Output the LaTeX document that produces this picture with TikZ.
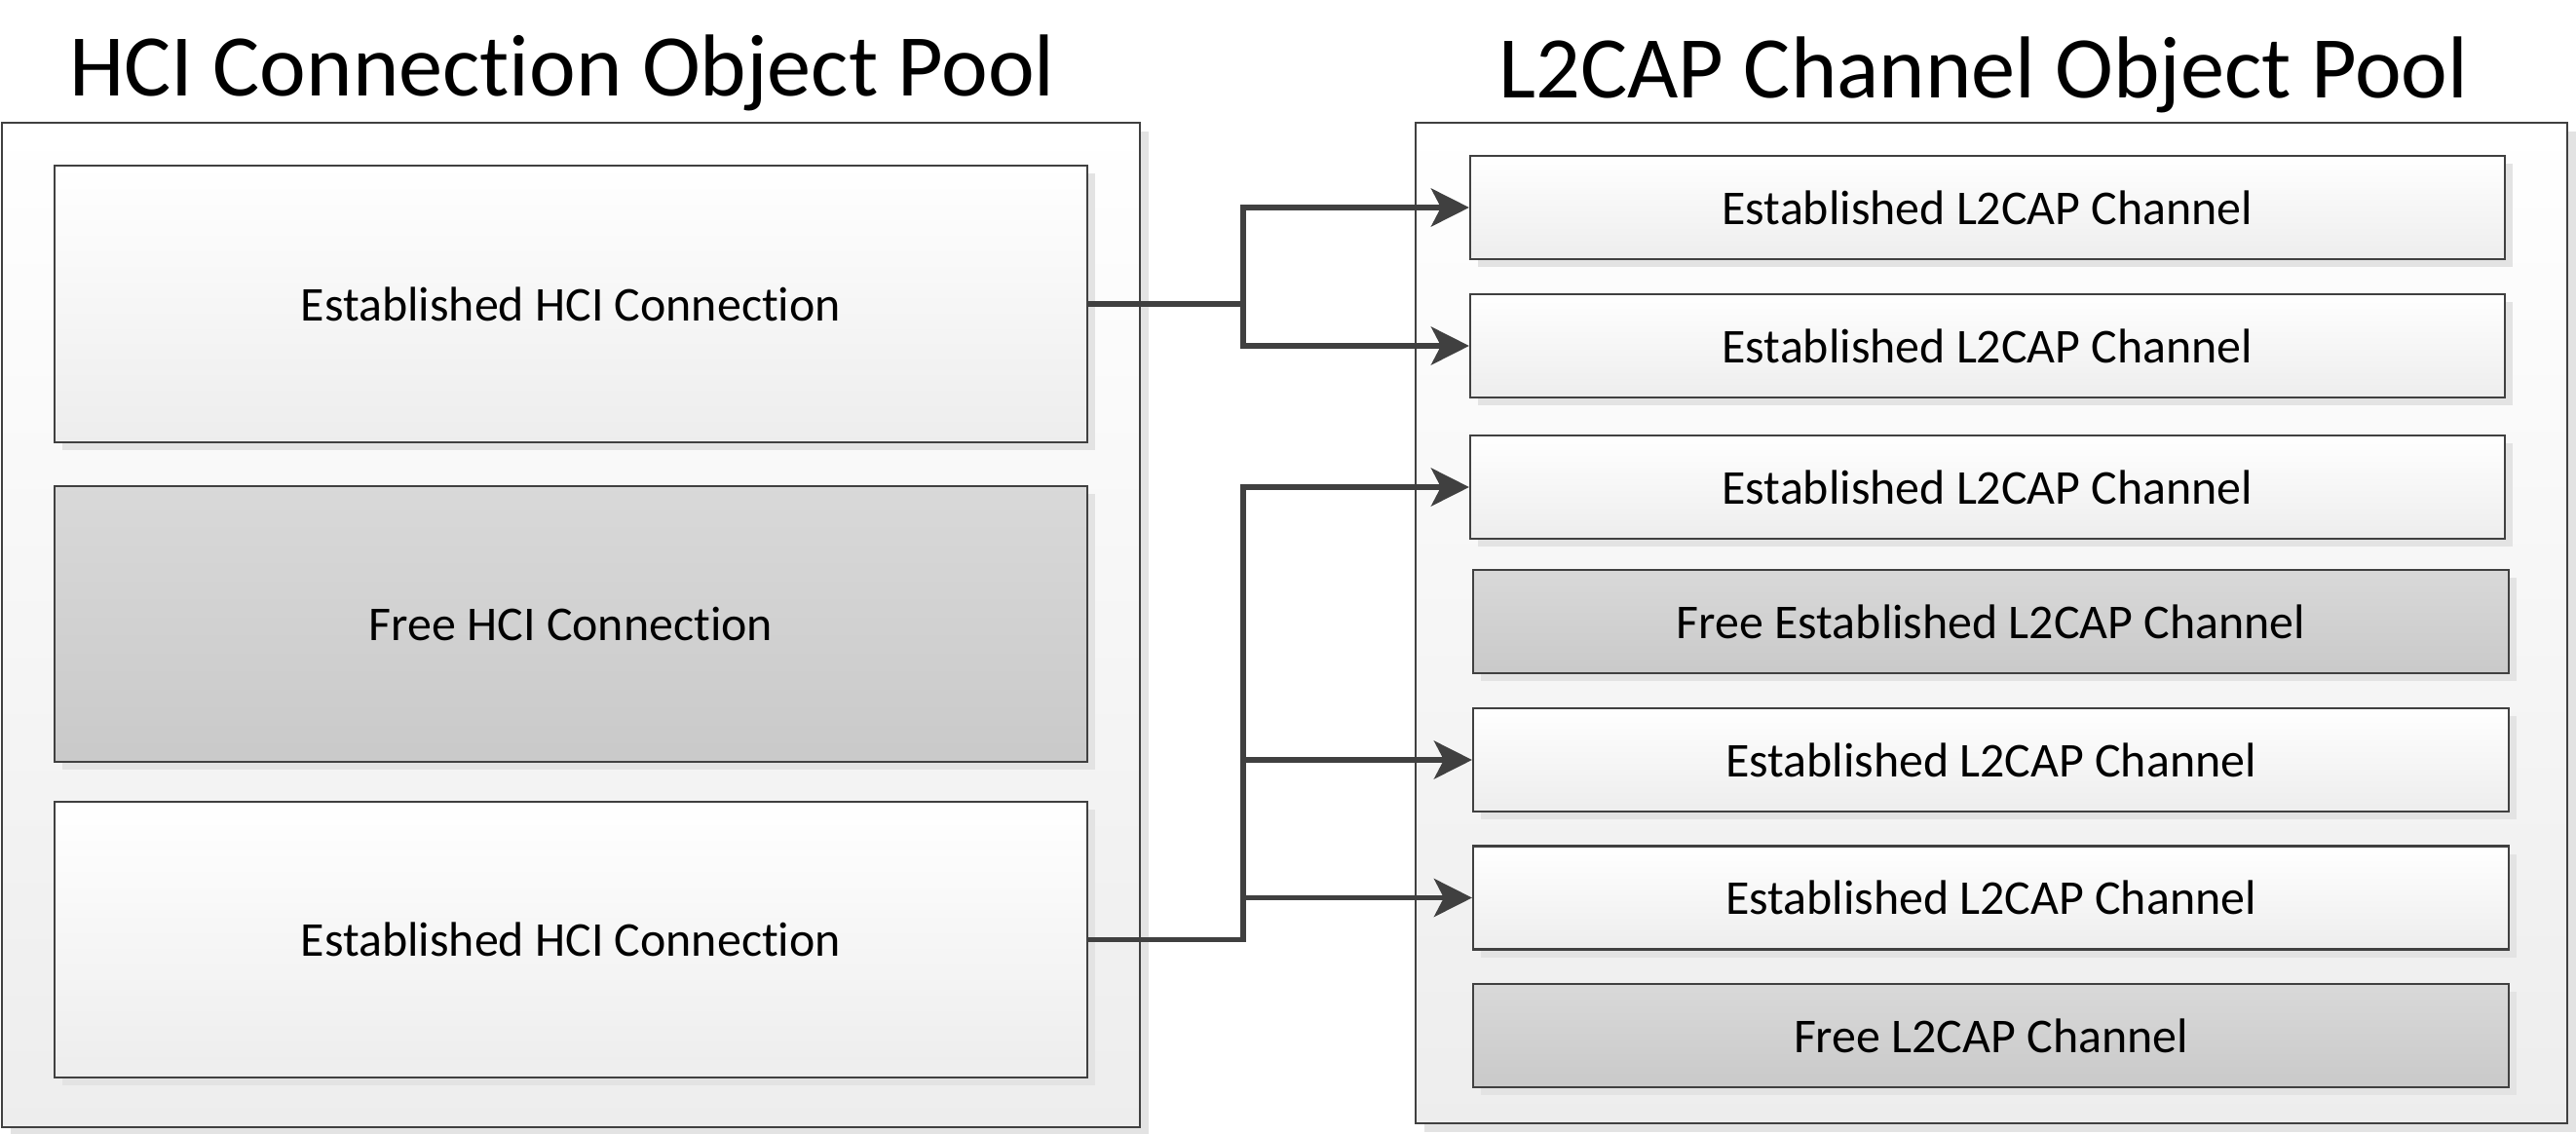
\documentclass[tikz,border=0pt]{standalone}
\usepackage{fontspec}
\setmainfont[Ligatures=NoCommon]{Carlito}
\usetikzlibrary{arrows.meta,shadows}
\definecolor{edgegray}{HTML}{404040}
\tikzset{
  poolbox/.style={draw=edgegray, rectangle, line width=.45pt, top color=white, bottom color=black!7,
    drop shadow={shadow xshift=.09cm, shadow yshift=-.09cm, fill=black!11, opacity=1}},
  usedobj/.style={draw=edgegray, rectangle, line width=.6pt, top color=white, bottom color=black!7,
    font=\fontsize{14.2}{17}\selectfont, inner sep=0pt,
    drop shadow={shadow xshift=.08cm, shadow yshift=-.08cm, fill=black!11, opacity=1}},
  freeobj/.style={usedobj, top color=black!15, bottom color=black!21},
  pooltitle/.style={font=\fontsize{25.7}{30}\selectfont, anchor=base},
  objlink/.style={draw=edgegray, line width=1.6pt, -{Stealth[length=3.9mm,width=3.9mm,inset=1mm]}}
}

\begin{document}
\begin{tikzpicture}
    \useasboundingbox (0,0) rectangle (26.44,-11.63);

    \node[pooltitle] (hcititle) at (5.77,-0.98) {HCI Connection Object Pool};
    \node[pooltitle] (l2title) at (20.36,-1.00) {L2CAP Channel Object Pool};

    \node[poolbox, minimum width=11.68cm, minimum height=10.31cm] (hcipool) at (5.86,-6.415) {};
    \node[poolbox, minimum width=11.82cm, minimum height=10.27cm] (l2pool) at (20.44,-6.395) {};

    \node[usedobj, minimum width=10.60cm, minimum height=2.84cm] (hci1) at (5.86,-3.12) {Established HCI Connection};
    \node[freeobj, minimum width=10.60cm, minimum height=2.83cm] (hci2) at (5.86,-6.405) {Free HCI Connection};
    \node[usedobj, minimum width=10.60cm, minimum height=2.83cm] (hci3) at (5.86,-9.645) {Established HCI Connection};

    \node[usedobj, minimum width=10.62cm, minimum height=1.06cm] (ch1) at (20.40,-2.13) {Established L2CAP Channel};
    \node[usedobj, minimum width=10.62cm, minimum height=1.06cm] (ch2) at (20.40,-3.55) {Established L2CAP Channel};
    \node[usedobj, minimum width=10.62cm, minimum height=1.06cm] (ch3) at (20.40,-5.00) {Established L2CAP Channel};
    \node[freeobj, minimum width=10.63cm, minimum height=1.06cm] (ch4) at (20.435,-6.38) {Free Established L2CAP Channel};
    \node[usedobj, minimum width=10.63cm, minimum height=1.06cm] (ch5) at (20.435,-7.80) {Established L2CAP Channel};
    \node[usedobj, minimum width=10.63cm, minimum height=1.06cm] (ch6) at (20.435,-9.215) {Established L2CAP Channel};
    \node[freeobj, minimum width=10.63cm, minimum height=1.06cm] (ch7) at (20.435,-10.63) {Free L2CAP Channel};

    \coordinate (split1) at (12.76,-3.12);
    \coordinate (split3) at (12.76,-9.645);

    \draw[objlink] (hci1.east) -- (split1) |- (ch1.west);
    \draw[objlink] (split1) |- (ch2.west);
    \draw[objlink] (hci3.east) -- (split3) |- (ch3.west);
    \draw[objlink] (split3) |- (ch5.west);
    \draw[objlink] (split3) |- (ch6.west);
\end{tikzpicture}
\end{document}
